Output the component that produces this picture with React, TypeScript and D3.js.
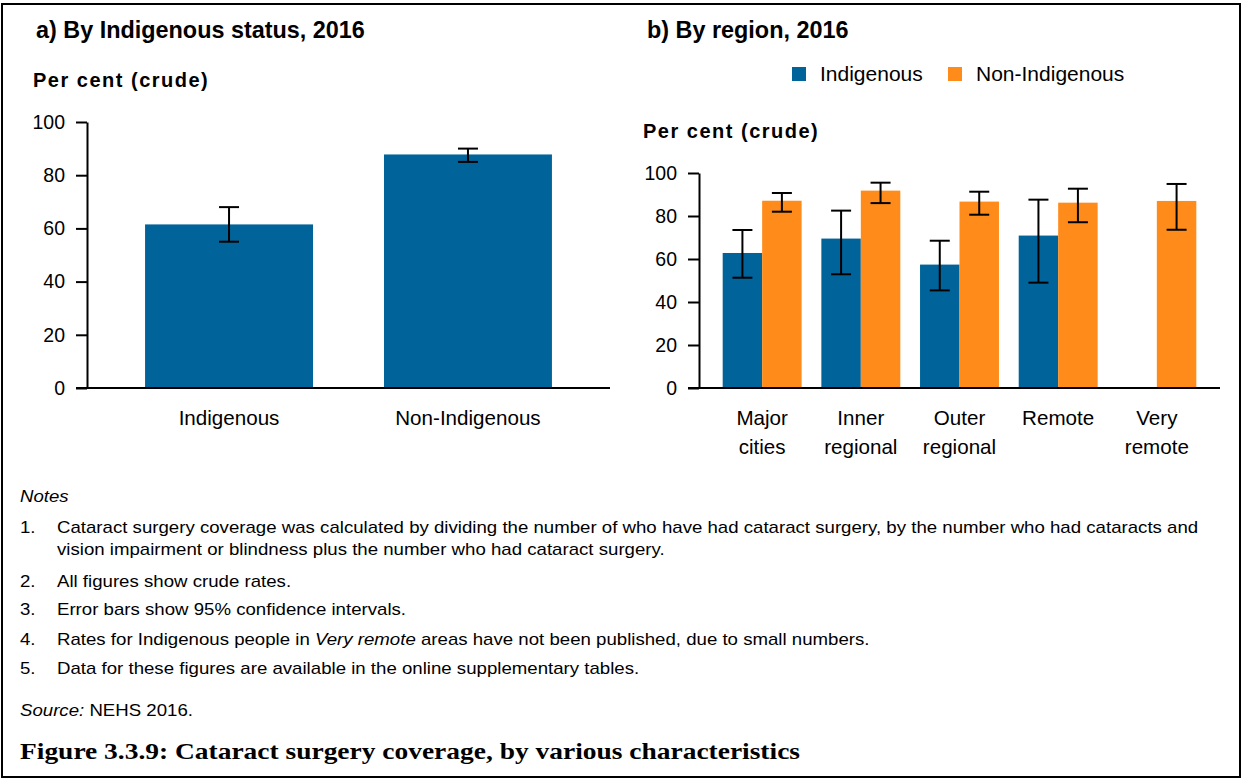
import * as d3 from "d3";
import { useEffect, useRef } from "react";

// panel a: by Indigenous status
const statusCategories = ["Indigenous", "Non-Indigenous"];
const statusValues = [61.5, 87.8];
const statusLower = [55, 85];
const statusUpper = [68, 90];

// panel b: by region
const regions = ["Major cities", "Inner regional", "Outer regional", "Remote", "Very remote"];
const regionLabels = [["Major", "cities"], ["Inner", "regional"], ["Outer", "regional"], ["Remote"], ["Very", "remote"]];
const indigenousValues = [62.8, 69.5, 57.4, 70.9, null];
const indigenousLower = [51.3, 52.9, 45.4, 49.0, null];
const indigenousUpper = [73.5, 82.5, 68.5, 87.6, null];
const nonIndigenousValues = [87.1, 91.8, 86.7, 86.2, 87.0];
const nonIndigenousLower = [82.0, 86.0, 80.6, 77.1, 73.6];
const nonIndigenousUpper = [90.7, 95.5, 91.3, 92.7, 94.9];

const series = ["Indigenous", "Non-Indigenous"];
const yTicks = [0, 20, 40, 60, 80, 100];

const notes = [
  ["Cataract surgery coverage was calculated by dividing the number of who have had cataract surgery, by the number who had cataracts and", "vision impairment or blindness plus the number who had cataract surgery."],
  ["All figures show crude rates."],
  ["Error bars show 95% confidence intervals."],
  ["Rates for Indigenous people in |Very remote| areas have not been published, due to small numbers."],
  ["Data for these figures are available in the online supplementary tables."],
];

const BLUE = "#00649a";
const ORANGE = "#ff8c1a";
const SANS = "'Liberation Sans', Arial, sans-serif";

export default function App() {
  const ref = useRef<SVGSVGElement | null>(null);

  useEffect(() => {
    const svg = d3.select(ref.current);
    svg.selectAll("*").remove();

    svg
      .append("rect")
      .attr("x", 2)
      .attr("y", 4)
      .attr("width", 1238)
      .attr("height", 773)
      .attr("fill", "white")
      .attr("stroke", "black")
      .attr("stroke-width", 2);

    const drawAxis = (g: any, y: any, x0: number, x1: number) => {
      const ax = g
        .append("g")
        .attr("transform", `translate(${x0},0)`)
        .call(d3.axisLeft(y).tickValues(yTicks).tickSizeInner(11).tickSizeOuter(0).tickPadding(11));
      ax.selectAll("path, line").attr("stroke", "black").attr("stroke-width", 2);
      ax.selectAll("text").attr("font-size", 19.5).attr("font-family", SANS).attr("fill", "black");
      g.append("line")
        .attr("x1", x0 - 11)
        .attr("x2", x1)
        .attr("y1", y(0))
        .attr("y2", y(0))
        .attr("stroke", "black")
        .attr("stroke-width", 2);
    };

    const errorBar = (g: any, cx: number, lo: number, hi: number, y: any) => {
      const e = g.append("g").attr("stroke", "black").attr("stroke-width", 2);
      e.append("line").attr("x1", cx).attr("x2", cx).attr("y1", y(lo)).attr("y2", y(hi));
      e.append("line").attr("x1", cx - 10).attr("x2", cx + 10).attr("y1", y(lo)).attr("y2", y(lo));
      e.append("line").attr("x1", cx - 10).attr("x2", cx + 10).attr("y1", y(hi)).attr("y2", y(hi));
    };

    // ---- panel a
    const a = svg.append("g");
    a.append("text")
      .attr("x", 36)
      .attr("y", 38)
      .attr("font-family", SANS)
      .attr("font-weight", "bold")
      .attr("font-size", 23.4)
      .text("a) By Indigenous status, 2016");
    a.append("text")
      .attr("x", 33)
      .attr("y", 87)
      .attr("font-family", SANS)
      .attr("font-weight", "bold")
      .attr("font-size", 20)
      .attr("letter-spacing", 1.5)
      .text("Per cent (crude)");

    const ya = d3.scaleLinear().domain([0, 100]).range([388, 122]);
    const xa = d3.scaleBand().domain(statusCategories).range([87, 610]).paddingInner(0.297).paddingOuter(0.243);

    a.selectAll(".bar")
      .data(statusCategories)
      .enter()
      .append("rect")
      .attr("x", (d) => xa(d)!)
      .attr("width", xa.bandwidth())
      .attr("y", (_d, i) => ya(statusValues[i]))
      .attr("height", (_d, i) => ya(0) - ya(statusValues[i]))
      .attr("fill", BLUE);
    drawAxis(a, ya, 87, 610);
    statusCategories.forEach((c, i) => {
      errorBar(a, xa(c)! + xa.bandwidth() / 2, statusLower[i], statusUpper[i], ya);
      a.append("text")
        .attr("x", xa(c)! + xa.bandwidth() / 2)
        .attr("y", 425)
        .attr("text-anchor", "middle")
        .attr("font-family", SANS)
        .attr("font-size", 20.6)
        .text(c);
    });

    // ---- panel b
    const b = svg.append("g");
    b.append("text")
      .attr("x", 647)
      .attr("y", 38)
      .attr("font-family", SANS)
      .attr("font-weight", "bold")
      .attr("font-size", 23.4)
      .text("b) By region, 2016");
    b.append("text")
      .attr("x", 643)
      .attr("y", 138)
      .attr("font-family", SANS)
      .attr("font-weight", "bold")
      .attr("font-size", 20)
      .attr("letter-spacing", 1.5)
      .text("Per cent (crude)");

    const legendX = [792, 948];
    series.forEach((s, i) => {
      b.append("rect")
        .attr("x", legendX[i])
        .attr("y", 67)
        .attr("width", 14)
        .attr("height", 14)
        .attr("fill", i === 0 ? BLUE : ORANGE);
      b.append("text")
        .attr("x", legendX[i] + 28)
        .attr("y", 81)
        .attr("font-family", SANS)
        .attr("font-size", 21)
        .text(s);
    });

    const yb = d3.scaleLinear().domain([0, 100]).range([388, 173]);
    const xb = d3.scaleBand().domain(regions).range([699, 1220]).paddingInner(0.2).paddingOuter(0.24);
    const xs = d3.scaleBand().domain(series).range([0, xb.bandwidth()]);

    regions.forEach((r, i) => {
      const vals = [indigenousValues[i], nonIndigenousValues[i]];
      series.forEach((s, j) => {
        const v = vals[j];
        if (v == null) return;
        b.append("rect")
          .attr("x", xb(r)! + xs(s)!)
          .attr("width", xs.bandwidth())
          .attr("y", yb(v))
          .attr("height", yb(0) - yb(v))
          .attr("fill", j === 0 ? BLUE : ORANGE);
      });
    });
    drawAxis(b, yb, 699, 1220);
    regions.forEach((r, i) => {
      const vals = [indigenousValues[i], nonIndigenousValues[i]];
      const los = [indigenousLower[i], nonIndigenousLower[i]];
      const his = [indigenousUpper[i], nonIndigenousUpper[i]];
      series.forEach((s, j) => {
        if (vals[j] == null) return;
        errorBar(b, xb(r)! + xs(s)! + xs.bandwidth() / 2, los[j]!, his[j]!, yb);
      });
      const t = b
        .append("text")
        .attr("text-anchor", "middle")
        .attr("font-family", SANS)
        .attr("font-size", 20.6);
      regionLabels[i].forEach((line, k) => {
        t.append("tspan")
          .attr("x", xb(r)! + xb.bandwidth() / 2)
          .attr("y", 425 + k * 29)
          .text(line);
      });
    });

    // ---- notes (the source font runs a little wider, hence the x stretch)
    const n = svg
      .append("g")
      .attr("transform", "translate(20,0) scale(1.166,1)")
      .attr("font-family", SANS)
      .attr("font-size", 16);
    n.append("text").attr("x", 0).attr("y", 502).attr("font-style", "italic").text("Notes");
    const noteY = [533, 587, 615, 645, 674];
    notes.forEach((lines, i) => {
      n.append("text").attr("x", 0).attr("y", noteY[i]).text(`${i + 1}.`);
      lines.forEach((line, k) => {
        const t = n.append("text").attr("x", 37 / 1.166).attr("y", noteY[i] + k * 22);
        line.split("|").forEach((part, p) => {
          t.append("tspan").attr("font-style", p % 2 ? "italic" : "normal").text(part);
        });
      });
    });
    const src = n.append("text").attr("x", 0).attr("y", 716);
    src.append("tspan").attr("font-style", "italic").text("Source:");
    src.append("tspan").text(" NEHS 2016.");

    svg
      .append("text")
      .attr("x", 20)
      .attr("y", 759)
      .attr("font-family", "'Liberation Serif', 'DejaVu Serif', serif")
      .attr("font-weight", "bold")
      .attr("font-size", 24)
      .attr("textLength", 780)
      .attr("lengthAdjust", "spacingAndGlyphs")
      .text("Figure 3.3.9: Cataract surgery coverage, by various characteristics");
  }, []);

  return (
    <svg
      ref={ref}
      width={1242}
      height={780}
      style={{ position: "absolute", left: 0, top: 0, background: "white" }}
    />
  );
}
